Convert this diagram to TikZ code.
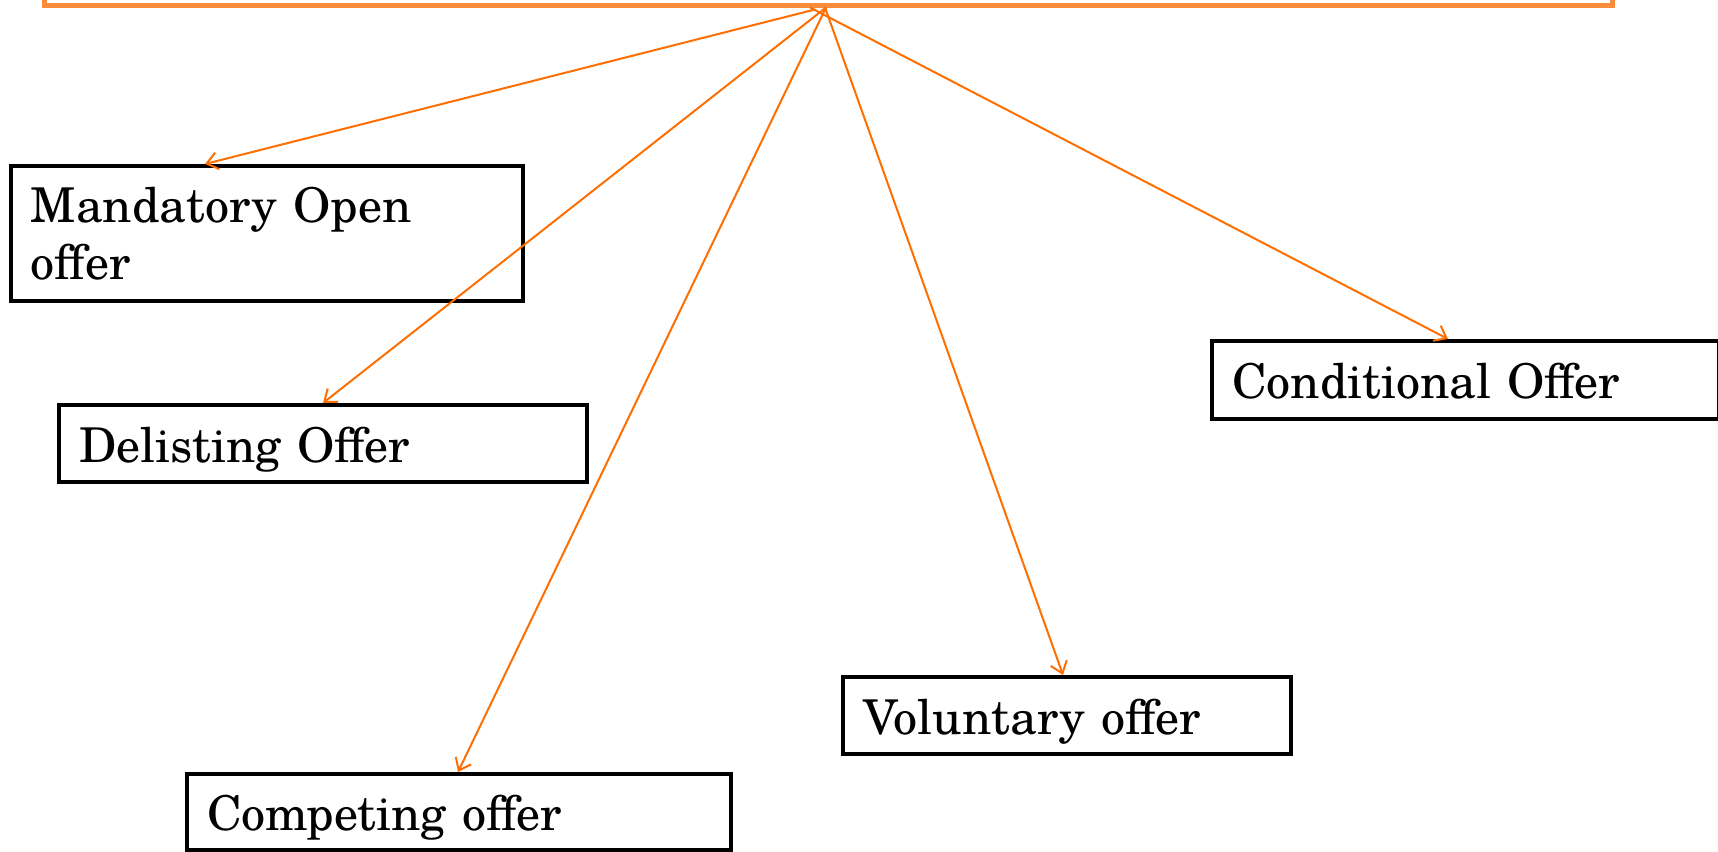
\documentclass[tikz,border=0pt]{standalone}
\usepackage{fontspec}
\setmainfont{TeX Gyre Schola}
\usetikzlibrary{arrows.meta,calc}
\definecolor{topor}{RGB}{250,140,60}
\definecolor{arror}{RGB}{255,110,0}
\tikzset{
  offerbox/.style={draw=black, line width=2pt, rectangle, inner xsep=10pt, inner ysep=0pt,
    align=left, font=\fontsize{24}{28.5}\selectfont},
  oneline/.style={text height=24pt, text depth=5.5pt},
  topbox/.style={draw=topor, line width=2.5pt, rectangle, inner sep=0pt},
  offerarrow/.style={draw=arror, line width=1pt, -{Straight Barb[length=5.5pt,width=8.5pt]}}
}
\begin{document}
\begin{tikzpicture}[x=0.5pt,y=-0.5pt]
\clip (0,0) rectangle (1718,851);
\node[topbox, minimum width=784pt, minimum height=50pt] (top) at (828,-45) {};
\node[offerbox, text width=236pt, minimum height=67.5pt] (mand) at (267,233.5) {Mandatory Open\\offer};
\node[offerbox, oneline, text width=244pt, minimum height=38.5pt] (delist) at (323,443.5) {Delisting Offer};
\node[offerbox, oneline, text width=252pt, minimum height=38pt] (compet) at (459,812) {Competing offer};
\node[offerbox, oneline, text width=204pt, minimum height=38.5pt] (volun) at (1067,715.5) {Voluntary offer};
\node[offerbox, oneline, text width=233.5pt, minimum height=39pt] (condi) at (1465.5,380) {Conditional Offer};
\draw[offerarrow] ($(top.south)+(-13,2)$) -- ($(mand.north west)+(196,0)$);
\draw[offerarrow] ($(top.south)+(-2,0)$) -- ($(delist.north west)+(266,0)$);
\draw[offerarrow] ($(top.south)+(-2,0)$) -- ($(compet.north west)+(273,0)$);
\draw[offerarrow] ($(top.south)+(-3,0)$) -- ($(volun.north west)+(222,0)$);
\draw[offerarrow] ($(top.south)+(-18,0)$) -- ($(condi.north west)+(238,0)$);
\end{tikzpicture}
\end{document}
